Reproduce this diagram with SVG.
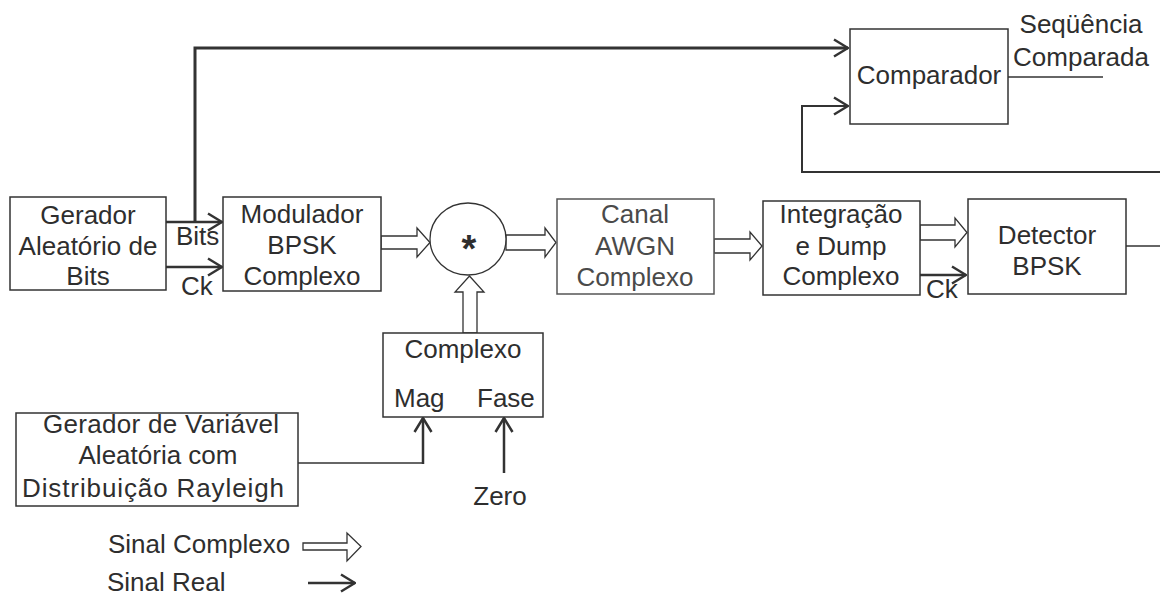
<svg xmlns="http://www.w3.org/2000/svg" width="1160" height="607" viewBox="0 0 1160 607">
  <style>
    text { font-family: "Liberation Sans", Arial, sans-serif; font-size: 26px; fill: #2e2e2e; text-anchor: middle; }
    .lbl { text-anchor: start; }
    .box { fill: #ffffff; stroke: #333333; stroke-width: 1.5; }
    .soft { stroke: #555555; }
    .softtxt { fill: #4a4a4a; }
    .real { fill: none; stroke: #333333; stroke-width: 2.5; }
    .thin { fill: none; stroke: #333333; stroke-width: 1.5; }
    .fat { fill: #ffffff; stroke: #333333; stroke-width: 1.3; stroke-linejoin: miter; }
  </style>
  <defs>
    <marker id="chev" markerUnits="userSpaceOnUse" viewBox="0 0 16 20" markerWidth="16" markerHeight="20" refX="15" refY="10" orient="auto">
      <path d="M1,1.5 L15,10 L1,18.5" fill="none" stroke="#333333" stroke-width="2.5"/>
    </marker>
  </defs>

  <!-- connectors -->
  <g id="connectors">
    <!-- bit stream tapped to the comparator -->
    <polyline class="real" points="195,222 195,48 848,48" style="stroke-width:3" marker-end="url(#chev)"/>
    <line class="real" x1="166" y1="222" x2="222" y2="222" marker-end="url(#chev)"/>
    <line class="real" x1="166" y1="267" x2="222" y2="267" marker-end="url(#chev)"/>
    <!-- detector output and loop back to the comparator -->
    <line class="thin" x1="1126" y1="246" x2="1160" y2="246"/>
    <polyline class="real" points="1160,172 802,172 802,106 848,106" style="stroke-width:2" marker-end="url(#chev)"/>
    <line class="thin" x1="1008" y1="77" x2="1103" y2="77"/>
    <!-- clock into the detector -->
    <line class="real" x1="920" y1="275" x2="966" y2="275" marker-end="url(#chev)"/>
    <!-- magnitude and phase inputs -->
    <polyline class="thin" points="298,463 423,463"/>
    <line class="real" x1="423" y1="464" x2="423" y2="418" marker-end="url(#chev)"/>
    <line class="real" x1="504" y1="473" x2="504" y2="418" marker-end="url(#chev)"/>
    <!-- complex-signal arrows -->
    <polygon class="fat" points="381,236 417,236 417,228 430,242.5 417,257 417,249 381,249"/>
    <polygon class="fat" points="506,235 545,235 545,228 556,242.5 545,257 545,250 506,250"/>
    <polygon class="fat" points="714,239 750,239 750,232 762,246 750,260 750,253 714,253"/>
    <polygon class="fat" points="920,225 955,225 955,218 967,232.5 955,247 955,240 920,240"/>
    <polygon class="fat" points="463,333 463,292 455,292 469.5,276 484,292 477,292 477,333"/>
  </g>

  <g id="gerador-bits">
    <rect class="box" x="10" y="197" width="156" height="93"/>
    <text x="88" y="224">Gerador</text>
    <text x="88" y="255">Aleatório de</text>
    <text x="88" y="285">Bits</text>
  </g>
  <text class="lbl" x="176" y="245">Bits</text>
  <text class="lbl" x="181" y="295">Ck</text>

  <g id="modulador">
    <rect class="box" x="223" y="197" width="158" height="94"/>
    <text x="302" y="223">Modulador</text>
    <text x="302" y="254">BPSK</text>
    <text x="302" y="285">Complexo</text>
  </g>

  <g id="multiplicador">
    <ellipse class="box" cx="468" cy="239" rx="38" ry="36" style="stroke-width:1.3"/>
    <text x="469" y="262" style="font-size:38px;font-weight:bold">*</text>
  </g>

  <g id="canal">
    <rect class="box soft" x="557" y="199" width="157" height="95"/>
    <text class="softtxt" x="635" y="223">Canal</text>
    <text class="softtxt" x="635" y="255">AWGN</text>
    <text class="softtxt" x="635" y="286">Complexo</text>
  </g>

  <g id="integrador">
    <rect class="box" x="763" y="201" width="157" height="94"/>
    <text x="841" y="223">Integração</text>
    <text x="841" y="255">e Dump</text>
    <text x="841" y="285">Complexo</text>
  </g>
  <text class="lbl" x="926" y="298">Ck</text>

  <g id="detector">
    <rect class="box" x="968" y="199" width="158" height="95"/>
    <text x="1047" y="244">Detector</text>
    <text x="1047" y="275">BPSK</text>
  </g>

  <g id="comparador">
    <rect class="box" x="850" y="29" width="158" height="95"/>
    <text x="929" y="84">Comparador</text>
  </g>
  <text x="1081" y="33">Seqüência</text>
  <text x="1081" y="66">Comparada</text>

  <g id="complexo">
    <rect class="box" x="383" y="333" width="160" height="84"/>
    <text x="463" y="358">Complexo</text>
    <text class="lbl" x="394" y="407">Mag</text>
    <text class="lbl" x="477" y="407">Fase</text>
  </g>
  <text x="500" y="505">Zero</text>

  <g id="gerador-rayleigh">
    <rect class="box" x="16" y="413" width="282" height="93"/>
    <text x="161" y="433" textLength="236" lengthAdjust="spacing">Gerador de Variável</text>
    <text x="158" y="464">Aleatória com</text>
    <text x="153" y="497" textLength="262" lengthAdjust="spacing">Distribuição Rayleigh</text>
  </g>

  <g id="legenda">
    <text class="lbl" x="108" y="553">Sinal Complexo</text>
    <polygon class="fat" points="303,543 347,543 347,533 361,546.5 347,561 347,550 303,550"/>
    <text class="lbl" x="107" y="591">Sinal Real</text>
    <line class="real" x1="308" y1="583" x2="355" y2="583" marker-end="url(#chev)"/>
  </g>
</svg>
